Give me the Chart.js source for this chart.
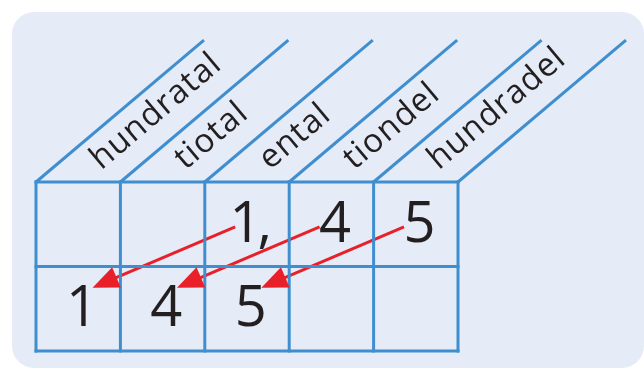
<!DOCTYPE html>
<html>
<head>
<meta charset="utf-8">
<style>
  html, body { margin: 0; padding: 0; background: #fff; }
  canvas { display: block; }
</style>
</head>
<body>
<canvas id="chart" width="644" height="369"></canvas>
<script src="https://cdn.jsdelivr.net/npm/chart.js@4.4.1/dist/chart.umd.min.js"></script>
<script>
// place value headings, one per column
const places = ["hundratal", "tiotal", "ental", "tiondel", "hundradel"];
// 1,45 before and after dividing by 100
const topRow = ["", "", "1,", "4", "5"];
const bottomRow = ["1", "4", "5", "", ""];
// every digit moves two columns to the left
const moveFrom = [2, 3, 4];
const moveTo = [0, 1, 2];

// layout, in cells
const ROWS = 2;
const SLANT_X = 1.99;
const SLANT_Y = 1.68;
const CELL_W = 84.4;
const CELL_H = 84.5;
const LEFT = 36;
const BOTTOM = 351;
const DIGIT_X = 0.52;
const DIGIT_Y = 0.29;
const ARROW_START = { x: 0.36, y: 0.47 };
const ARROW_TIP = { x: 0.67, y: 0.75 };

const BLUE = "#3f8ecf";
const RED = "#e8202a";
const INK = "#231f20";
const PANEL = "#e5ecf7";

const W = 644;
const H = 369;

function seg(a, b, color, width, cap) {
  return {
    data: [a, b],
    showLine: true,
    borderColor: color,
    borderWidth: width,
    borderCapStyle: cap,
    pointRadius: 0,
    pointHoverRadius: 0,
    fill: false,
  };
}

const datasets = [];
const cols = places.length;
for (let r = 0; r <= ROWS; r++) {
  datasets.push(seg({ x: 0, y: r }, { x: cols, y: r }, BLUE, 3, "square"));
}
for (let c = 0; c <= cols; c++) {
  datasets.push(seg({ x: c, y: 0 }, { x: c, y: ROWS }, BLUE, 3, "square"));
  datasets.push(
    seg({ x: c, y: ROWS }, { x: c + SLANT_X, y: ROWS + SLANT_Y }, BLUE, 3, "butt")
  );
}
const arrows = moveFrom.map((from, i) => {
  const start = { x: from + ARROW_START.x, y: 1 + ARROW_START.y };
  const tip = { x: moveTo[i] + ARROW_TIP.x, y: ARROW_TIP.y };
  // shaft stops inside the head
  const end = {
    x: start.x + (tip.x - start.x) * 0.88,
    y: start.y + (tip.y - start.y) * 0.88,
  };
  datasets.push(seg(start, end, RED, 3, "butt"));
  return { start, tip };
});

const drawing = {
  id: "drawing",
  beforeDraw(chart) {
    const { ctx } = chart;
    ctx.save();
    ctx.fillStyle = PANEL;
    ctx.beginPath();
    ctx.roundRect(12, 12, 632, 356, 22);
    ctx.fill();
    ctx.restore();
  },
  afterDatasetsDraw(chart) {
    const { ctx } = chart;
    const { x, y } = chart.scales;
    const px = (p) => [x.getPixelForValue(p.x), y.getPixelForValue(p.y)];

    ctx.save();
    ctx.fillStyle = INK;

    // slanted headings
    const angle = Math.atan2(
      y.getPixelForValue(ROWS + SLANT_Y) - y.getPixelForValue(ROWS),
      x.getPixelForValue(SLANT_X) - x.getPixelForValue(0)
    );
    ctx.font = '33px "Open Sans"';
    ctx.letterSpacing = "1px";
    ctx.textAlign = "left";
    ctx.textBaseline = "alphabetic";
    places.forEach((name, c) => {
      const [mx, my] = px({ x: c + 0.5, y: ROWS });
      ctx.save();
      ctx.translate(mx, my);
      ctx.rotate(angle);
      ctx.fillText(name, 25, 6);
      ctx.restore();
    });

    // digits
    ctx.font = '56px "Open Sans"';
    ctx.letterSpacing = "-4px";
    ctx.textAlign = "center";
    const rows = [bottomRow, topRow];
    rows.forEach((row, r) => {
      row.forEach((d, c) => {
        if (!d) return;
        const [dx, dy] = px({ x: c + DIGIT_X, y: r + DIGIT_Y });
        ctx.fillText(d, dx, dy);
      });
    });
    ctx.letterSpacing = "0px";

    // arrow heads
    ctx.fillStyle = RED;
    arrows.forEach(({ start, tip }) => {
      const [sx, sy] = px(start);
      const [tx, ty] = px(tip);
      const len = Math.hypot(tx - sx, ty - sy);
      const ux = (tx - sx) / len;
      const uy = (ty - sy) / len;
      const bx = tx - ux * 26;
      const by = ty - uy * 26;
      ctx.beginPath();
      ctx.moveTo(tx, ty);
      ctx.lineTo(bx - uy * 11, by + ux * 11);
      ctx.lineTo(bx + uy * 11, by - ux * 11);
      ctx.closePath();
      ctx.fill();
    });
    ctx.restore();
  },
};

new Chart(document.getElementById("chart"), {
  type: "scatter",
  data: { datasets },
  options: {
    responsive: false,
    animation: false,
    events: [],
    layout: { padding: 0 },
    plugins: { legend: { display: false }, tooltip: { enabled: false } },
    scales: {
      x: { type: "linear", display: false, min: -LEFT / CELL_W, max: (W - LEFT) / CELL_W },
      y: { type: "linear", display: false, min: -(H - BOTTOM) / CELL_H, max: BOTTOM / CELL_H },
    },
  },
  plugins: [drawing],
});
</script>
</body>
</html>
